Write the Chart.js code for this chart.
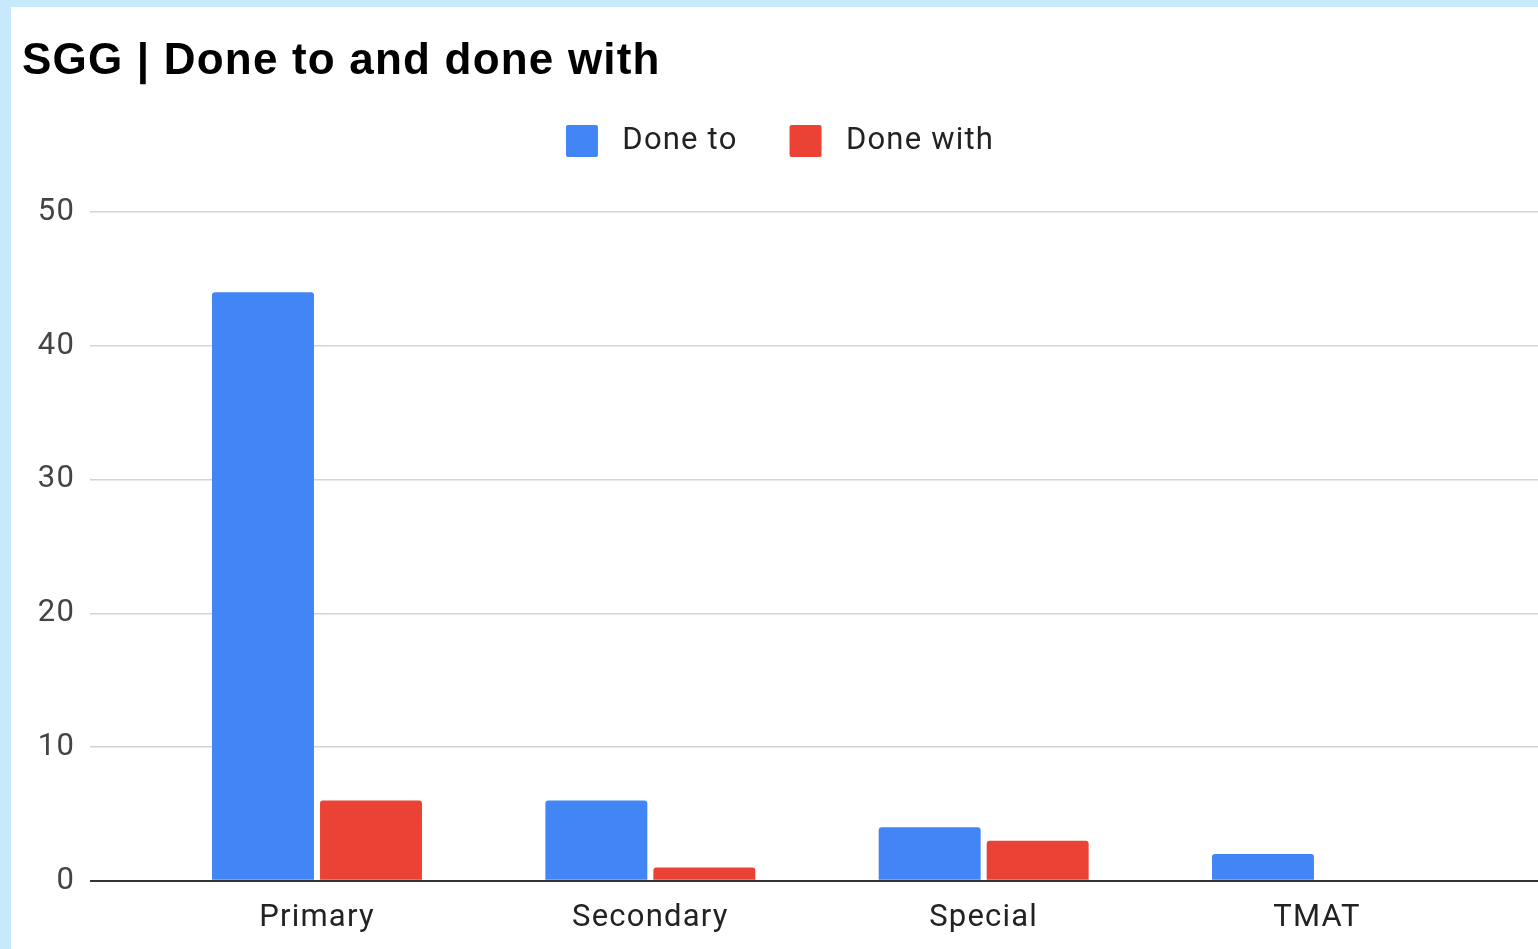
<!DOCTYPE html>
<html lang="en">
<head>
    <meta charset="UTF-8">
    <title>SGG | Done to and done with</title>
    <style>
        body {
            margin: 0;
            padding: 0;
            background-color: #c6e9fb;
            overflow: hidden;
        }

        .sheet {
            position: absolute;
            left: 11px;
            top: 7px;
            width: 1527px;
            height: 942px;
            background-color: #fff;
        }
    </style>
    <script src="https://cdn.jsdelivr.net/npm/chart.js"></script>
</head>
<body>
    <div class="sheet">
        <canvas id="sggChart"></canvas>
    </div>

    <script>
        const categories = ['Primary', 'Secondary', 'Special', 'TMAT'];
        const doneTo = [44, 6, 4, 2];
        const doneWith = [6, 1, 3, 0];
        const yTicks = [0, 10, 20, 30, 40, 50];

        // bars sit on a numeric x axis so the plot can run past the last group
        const toPoints = (values) => values.map((v, i) => ({ x: i, y: v }));

        // legend block taller than Chart.js computes, so the plot starts lower
        const legendGap = {
            id: 'legendGap',
            beforeInit(chart) {
                const fit = chart.legend.fit;
                chart.legend.fit = function () {
                    fit.call(this);
                    this.height += 45;
                };
            }
        };

        // slightly wider text, like the sheets renderer
        const spacing = {
            id: 'spacing',
            beforeUpdate(chart) { chart.ctx.letterSpacing = '1.2px'; },
            beforeDraw(chart) { chart.ctx.letterSpacing = '1.2px'; }
        };

        const ctx = document.getElementById('sggChart').getContext('2d');
        new Chart(ctx, {
            type: 'bar',
            data: {
                datasets: [
                    {
                        label: 'Done to',
                        data: toPoints(doneTo),
                        backgroundColor: '#4285f4',
                        borderWidth: 0,
                        borderRadius: 3,
                        categoryPercentage: 0.648,
                        barPercentage: 0.944
                    },
                    {
                        label: 'Done with',
                        data: toPoints(doneWith),
                        backgroundColor: '#ea4335',
                        borderWidth: 0,
                        borderRadius: 3,
                        categoryPercentage: 0.648,
                        barPercentage: 0.944
                    }
                ]
            },
            options: {
                responsive: true,
                maintainAspectRatio: false,
                animation: false,
                layout: {
                    padding: { left: 11, right: 0, top: 0, bottom: 1 }
                },
                plugins: {
                    title: {
                        display: true,
                        text: 'SGG | Done to and done with',
                        align: 'start',
                        color: '#000',
                        font: { family: '"Liberation Sans", Arial, sans-serif', size: 44, weight: 'bold', lineHeight: 0.5 },
                        padding: { top: 44, bottom: 0 }
                    },
                    legend: {
                        position: 'top',
                        align: 'center',
                        labels: {
                            color: '#222',
                            font: { family: 'Roboto, sans-serif', size: 31 },
                            boxWidth: 32,
                            boxHeight: 32,
                            useBorderRadius: true,
                            borderRadius: 2,
                            padding: 52,
                            generateLabels: (chart) => {
                                const items = Chart.defaults.plugins.legend.labels.generateLabels(chart);
                                items.forEach((item) => { item.text = ' ' + item.text; });
                                return items;
                            }
                        }
                    },
                    tooltip: { enabled: false }
                },
                scales: {
                    x: {
                        type: 'linear',
                        offset: false,
                        min: -0.681,
                        max: 3.663,
                        grid: { display: false, offset: false },
                        border: { display: false },
                        afterBuildTicks: (scale) => {
                            scale.ticks = categories.map((c, i) => ({ value: i }));
                        },
                        ticks: {
                            autoSkip: false,
                            padding: 11,
                            color: '#222',
                            font: { family: 'Roboto, sans-serif', size: 31 },
                            callback: (value) => categories[value] ?? ''
                        }
                    },
                    y: {
                        min: yTicks[0],
                        max: yTicks[yTicks.length - 1],
                        afterFit: (scale) => { scale.width = 68; },
                        afterBuildTicks: (scale) => {
                            scale.ticks = yTicks.map((v) => ({ value: v }));
                        },
                        border: { display: false },
                        grid: {
                            drawTicks: false,
                            color: (c) => c.tick.value === 0 ? '#333333' : '#d3d3d3',
                            lineWidth: (c) => c.tick.value === 0 ? 2 : 1.5
                        },
                        ticks: {
                            padding: 15,
                            color: '#444',
                            font: { family: 'Roboto, sans-serif', size: 31 }
                        }
                    }
                }
            },
            plugins: [legendGap, spacing]
        });
    </script>
</body>
</html>
